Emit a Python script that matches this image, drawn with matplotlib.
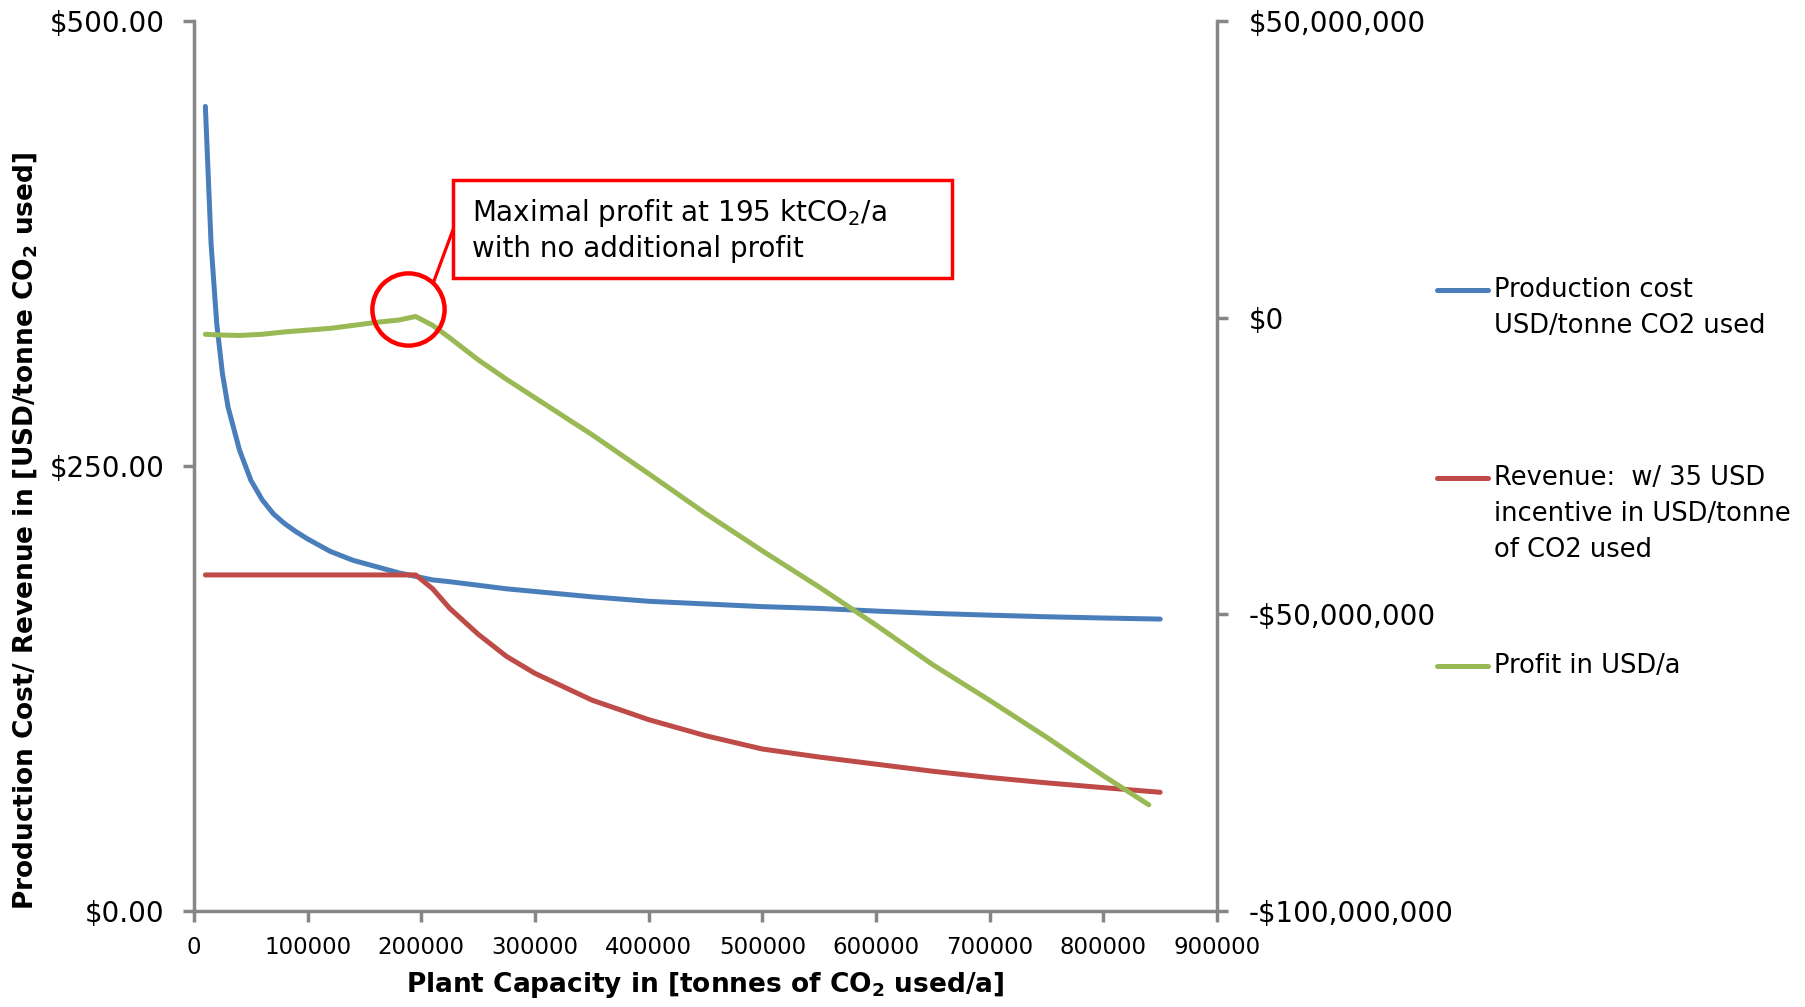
import matplotlib
matplotlib.use('Agg')
import matplotlib.pyplot as plt
from matplotlib.patches import Rectangle
from matplotlib.lines import Line2D
from matplotlib.ticker import FuncFormatter

# plant capacity in tonnes CO2 / a
capacity = [10000, 15000, 20000, 25000, 30000, 40000, 50000, 60000, 70000,
            80000, 90000, 100000, 120000, 140000, 160000, 180000, 195000,
            210000, 225000, 250000, 275000, 300000, 350000, 400000, 450000,
            500000, 550000, 600000, 650000, 700000, 750000, 800000, 850000]

# production cost USD/tonne CO2 used
prod_cost = [452, 375, 330, 302, 283, 259, 242, 231, 223,
             217.5, 213, 209, 202, 197, 193.5, 190, 188,
             186, 185, 183, 181, 179.5, 176.5, 174, 172.5,
             171, 170, 168.5, 167.2, 166.2, 165.3, 164.6, 164]

# revenue w/ 35 USD incentive, USD/tonne CO2 used
revenue = [188.8, 188.8, 188.8, 188.8, 188.8, 188.8, 188.8, 188.8, 188.8,
           188.8, 188.8, 188.8, 188.8, 188.8, 188.8, 188.8, 188.8,
           181, 170, 155.5, 143, 133.5, 118.5, 107.5, 98.5,
           91, 86.5, 82.5, 78.5, 75, 72, 69.3, 66.7]

# profit in USD/a (right axis)
profit_capacity = [10000, 20000, 40000, 60000, 80000, 100000, 120000, 140000,
                   160000, 180000, 195000, 210000, 225000, 250000, 275000,
                   300000, 350000, 400000, 450000, 500000, 550000, 600000,
                   650000, 700000, 750000, 800000, 840000]
profit = [-2.8e6, -2.9e6, -3.0e6, -2.8e6, -2.4e6, -2.1e6, -1.8e6, -1.3e6,
          -0.8e6, -0.4e6, 0.2e6, -1.3e6, -3.4e6, -7.1e6, -10.4e6,
          -13.5e6, -19.7e6, -26.3e6, -33.0e6, -39.3e6, -45.4e6, -51.8e6,
          -58.5e6, -64.5e6, -70.7e6, -77.2e6, -82.1e6]

# highlighted maximum
peak_capacity = 188000
peak_profit = 1.47e6

BLUE = '#4A7EBB'
RED = '#BE4B48'
GREEN = '#98B954'
GREY = '#868686'
LW = 3.6

plt.rcParams['font.family'] = ['DejaVu Sans']

fig = plt.figure(figsize=(18.06, 10.07), dpi=100)
ax = fig.add_axes([194 / 1806, 1 - 911 / 1007, 1023 / 1806, 890 / 1007])
ax2 = ax.twinx()

ax.plot(capacity, prod_cost, color=BLUE, lw=LW, solid_capstyle='round')
ax.plot(capacity, revenue, color=RED, lw=LW, solid_capstyle='round')
ax2.plot(profit_capacity, profit, color=GREEN, lw=LW, solid_capstyle='round')

ax.set_xlim(0, 900000)
ax.set_ylim(0, 500)
ax2.set_ylim(-100e6, 50e6)
ax.set_xticks(range(0, 900001, 100000))
ax.set_yticks([0, 250, 500])
ax2.set_yticks([-100e6, -50e6, 0, 50e6])

ax.xaxis.set_major_formatter(FuncFormatter(lambda v, p: f'{int(v)}'))
ax.yaxis.set_major_formatter(FuncFormatter(lambda v, p: f'${v:,.2f}'))
ax2.yaxis.set_major_formatter(
    FuncFormatter(lambda v, p: f'-${abs(v):,.0f}' if v < 0 else f'${v:,.0f}'))

for s in ['top', 'right']:
    ax.spines[s].set_visible(False)
for s in ['top', 'left', 'bottom']:
    ax2.spines[s].set_visible(False)
for sp in [ax.spines['left'], ax.spines['bottom'], ax2.spines['right']]:
    sp.set_color(GREY)
    sp.set_linewidth(2.5)

ax.tick_params(axis='y', direction='out', length=8, width=2.5, color=GREY,
               labelsize=20, pad=13)
ax.tick_params(axis='x', direction='out', length=8, width=2.5, color=GREY,
               labelsize=16.5, pad=10)
ax2.tick_params(axis='y', direction='out', length=8, width=2.5, color=GREY,
                labelsize=20, pad=15)

ax.set_xlabel('Plant Capacity in [tonnes of CO$_\\mathbf{2}$ used/a]',
              fontsize=19, fontweight='bold')
ax.xaxis.set_label_coords(0.5, -0.066)
fig.text(25 / 1806, 1 - 531 / 1007,
         'Production Cost/ Revenue in [USD/tonne CO$_\\mathbf{2}$ used]',
         rotation=90, ha='center', va='center', fontsize=19, fontweight='bold')

# annotation: circle, connector and box
ax2.plot(peak_capacity, peak_profit, 'o', ms=52, mfc='none', mec='#FF0000',
         mew=3.2, clip_on=False)
ax.plot([0.2346, 0.253], [0.7079, 0.765], color='#FF0000', lw=2.3,
        transform=ax.transAxes, clip_on=False)
ax2.add_patch(Rectangle((0.253, 0.7112), 0.488, 0.110, transform=ax.transAxes,
                        facecolor='white', edgecolor='#FF0000', lw=2.5, zorder=5))
ax2.text(0.272, 0.784, 'Maximal profit at 195 ktCO$_2$/a', transform=ax.transAxes,
         va='center', fontsize=20, zorder=6)
ax2.text(0.272, 0.744, 'with no additional profit', transform=ax.transAxes,
         va='center', fontsize=20, zorder=6)

# legend drawn Excel style, key aligned with first line
legend = [(BLUE, ['Production cost', 'USD/tonne CO2 used'], 290),
          (RED, ['Revenue:  w/ 35 USD', 'incentive in USD/tonne', 'of CO2 used'], 478),
          (GREEN, ['Profit in USD/a'], 666)]
for color, lines, ypx in legend:
    y = 1 - ypx / 1007
    fig.add_artist(Line2D([1437 / 1806, 1488 / 1806], [y, y], color=color,
                          lw=LW, solid_capstyle='round'))
    for i, line in enumerate(lines):
        fig.text(1494 / 1806, y - i * 36 / 1007, line, va='center', fontsize=18.5)

fig.savefig('out.png', dpi=100)
